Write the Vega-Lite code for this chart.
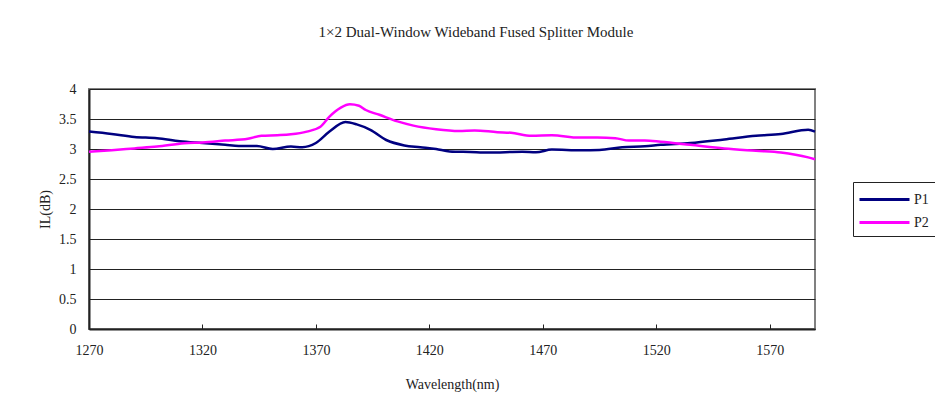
{
  "$schema": "https://vega.github.io/schema/vega-lite/v6.json",
  "autosize": {"type": "none"},
  "width": 726,
  "height": 240,
  "padding": {"left": 89, "top": 89, "right": 120, "bottom": 84},
  "background": "white",
  "title": {"text": "1×2 Dual-Window Wideband Fused Splitter Module", "font": "Liberation Serif", "fontSize": 15, "fontWeight": "normal", "color": "#222", "offset": 42, "dx": 24},
  "config": {
    "view": {"stroke": "#808080", "strokeWidth": 2},
    "font": "Liberation Serif"
  },
  "data": {"values": [
    {"s": "P1", "wl": 1270, "il": 3.29},
    {"s": "P1", "wl": 1280, "il": 3.25},
    {"s": "P1", "wl": 1290, "il": 3.2},
    {"s": "P1", "wl": 1300, "il": 3.18},
    {"s": "P1", "wl": 1310, "il": 3.13},
    {"s": "P1", "wl": 1320, "il": 3.1},
    {"s": "P1", "wl": 1330, "il": 3.07},
    {"s": "P1", "wl": 1336, "il": 3.05},
    {"s": "P1", "wl": 1344, "il": 3.05},
    {"s": "P1", "wl": 1351, "il": 3.0},
    {"s": "P1", "wl": 1359, "il": 3.04},
    {"s": "P1", "wl": 1364, "il": 3.03},
    {"s": "P1", "wl": 1370, "il": 3.1},
    {"s": "P1", "wl": 1376, "il": 3.29},
    {"s": "P1", "wl": 1383, "il": 3.45},
    {"s": "P1", "wl": 1388, "il": 3.41},
    {"s": "P1", "wl": 1394, "il": 3.32},
    {"s": "P1", "wl": 1401, "il": 3.15},
    {"s": "P1", "wl": 1409, "il": 3.06},
    {"s": "P1", "wl": 1416, "il": 3.03},
    {"s": "P1", "wl": 1423, "il": 3.0},
    {"s": "P1", "wl": 1429, "il": 2.96},
    {"s": "P1", "wl": 1438, "il": 2.95},
    {"s": "P1", "wl": 1446, "il": 2.94},
    {"s": "P1", "wl": 1461, "il": 2.955},
    {"s": "P1", "wl": 1467, "il": 2.945},
    {"s": "P1", "wl": 1474, "il": 2.99},
    {"s": "P1", "wl": 1487, "il": 2.98},
    {"s": "P1", "wl": 1495, "il": 2.985},
    {"s": "P1", "wl": 1505, "il": 3.03},
    {"s": "P1", "wl": 1515, "il": 3.045},
    {"s": "P1", "wl": 1522, "il": 3.07},
    {"s": "P1", "wl": 1535, "il": 3.1},
    {"s": "P1", "wl": 1550, "il": 3.16},
    {"s": "P1", "wl": 1564, "il": 3.22},
    {"s": "P1", "wl": 1575, "il": 3.25},
    {"s": "P1", "wl": 1587, "il": 3.32},
    {"s": "P1", "wl": 1590, "il": 3.29},
    {"s": "P2", "wl": 1270, "il": 2.955},
    {"s": "P2", "wl": 1280, "il": 2.98},
    {"s": "P2", "wl": 1290, "il": 3.01},
    {"s": "P2", "wl": 1300, "il": 3.04},
    {"s": "P2", "wl": 1312, "il": 3.095},
    {"s": "P2", "wl": 1320, "il": 3.11},
    {"s": "P2", "wl": 1330, "il": 3.14},
    {"s": "P2", "wl": 1340, "il": 3.17},
    {"s": "P2", "wl": 1346, "il": 3.22},
    {"s": "P2", "wl": 1353, "il": 3.23},
    {"s": "P2", "wl": 1359, "il": 3.245},
    {"s": "P2", "wl": 1366, "il": 3.29},
    {"s": "P2", "wl": 1372, "il": 3.37},
    {"s": "P2", "wl": 1376, "il": 3.54},
    {"s": "P2", "wl": 1381, "il": 3.69},
    {"s": "P2", "wl": 1385, "il": 3.745},
    {"s": "P2", "wl": 1389, "il": 3.72},
    {"s": "P2", "wl": 1392, "il": 3.65},
    {"s": "P2", "wl": 1398, "il": 3.57},
    {"s": "P2", "wl": 1406, "il": 3.46},
    {"s": "P2", "wl": 1413, "il": 3.39},
    {"s": "P2", "wl": 1423, "il": 3.33},
    {"s": "P2", "wl": 1433, "il": 3.3},
    {"s": "P2", "wl": 1440, "il": 3.31},
    {"s": "P2", "wl": 1450, "il": 3.28},
    {"s": "P2", "wl": 1456, "il": 3.27},
    {"s": "P2", "wl": 1465, "il": 3.22},
    {"s": "P2", "wl": 1474, "il": 3.23},
    {"s": "P2", "wl": 1486, "il": 3.19},
    {"s": "P2", "wl": 1494, "il": 3.19},
    {"s": "P2", "wl": 1502, "il": 3.18},
    {"s": "P2", "wl": 1508, "il": 3.14},
    {"s": "P2", "wl": 1515, "il": 3.14},
    {"s": "P2", "wl": 1522, "il": 3.12},
    {"s": "P2", "wl": 1535, "il": 3.07},
    {"s": "P2", "wl": 1550, "il": 3.01},
    {"s": "P2", "wl": 1564, "il": 2.97},
    {"s": "P2", "wl": 1575, "il": 2.94},
    {"s": "P2", "wl": 1587, "il": 2.86},
    {"s": "P2", "wl": 1590, "il": 2.83}
  ]},
  "mark": {"type": "line", "strokeWidth": 2.5, "interpolate": "monotone"},
  "encoding": {
    "x": {"field": "wl", "type": "quantitative",
      "scale": {"domain": [1270, 1590], "nice": false, "zero": false},
      "axis": {"values": [1270, 1320, 1370, 1420, 1470, 1520, 1570], "format": "d", "title": "Wavelength(nm)", "grid": false,
        "domainColor": "#222", "domainWidth": 2, "tickColor": "#222", "tickSize": -5, "tickWidth": 1,
        "labelFont": "Liberation Serif", "labelFontSize": 14, "labelColor": "#222", "labelPadding": 19,
        "labelFlush": false,
        "titleFont": "Liberation Serif", "titleFontSize": 14, "titleFontWeight": "normal", "titleColor": "#222", "titlePadding": 20}},
    "y": {"field": "il", "type": "quantitative",
      "scale": {"domain": [0, 4], "nice": false},
      "axis": {"values": [0, 0.5, 1, 1.5, 2, 2.5, 3, 3.5, 4], "format": "~f", "title": "IL(dB)", "grid": true, "gridColor": "#222", "gridWidth": 1,
        "domainColor": "#222", "domainWidth": 2, "ticks": false,
        "labelFont": "Liberation Serif", "labelFontSize": 14, "labelColor": "#222", "labelPadding": 13,
        "labelFlush": false,
        "titleFont": "Liberation Serif", "titleFontSize": 14, "titleFontWeight": "normal", "titleColor": "#222", "titlePadding": 6}},
    "color": {"field": "s", "type": "nominal",
      "scale": {"domain": ["P1", "P2"], "range": ["#000080", "#FF00FF"]},
      "legend": {"title": null, "orient": "none", "legendX": 764, "legendY": 93,
        "symbolType": "M-2.5,0H2.5", "symbolSize": 400, "symbolStrokeWidth": 3, "symbolOffset": 14,
        "labelFont": "Liberation Serif", "labelFontSize": 14, "labelColor": "#222",
        "strokeColor": "#222", "padding": 6, "rowPadding": 4, "labelOffset": 18}}
  }
}
